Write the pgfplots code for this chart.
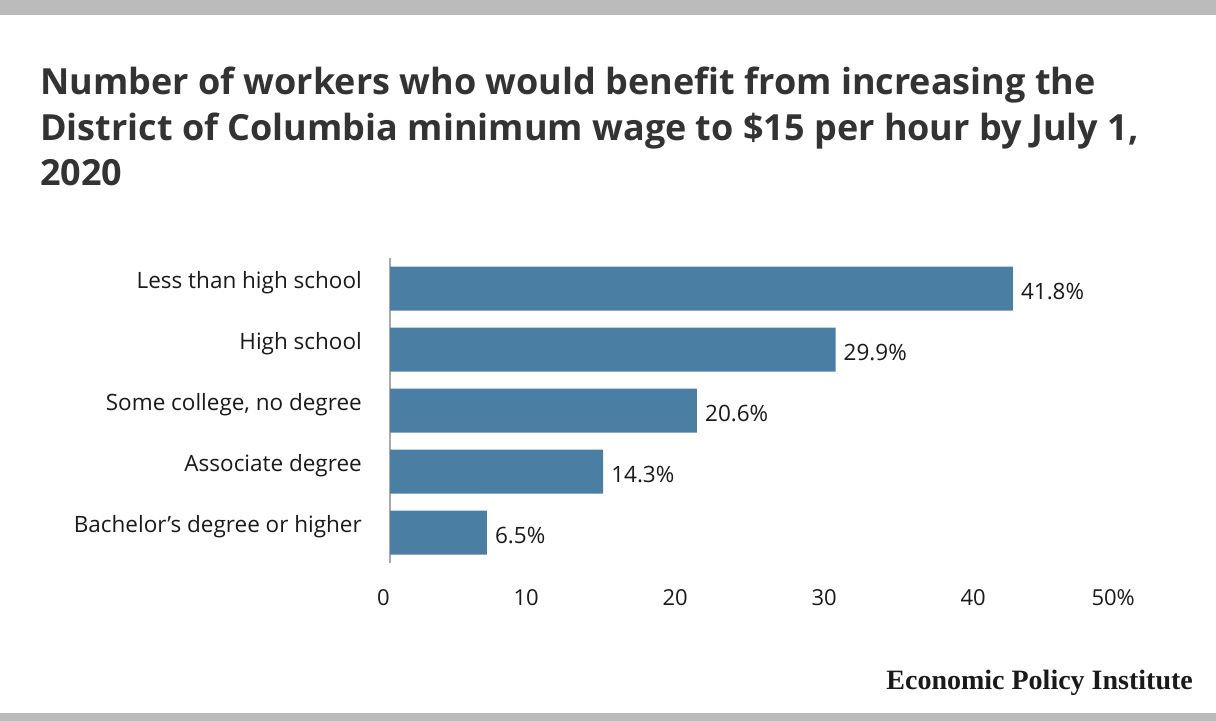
\documentclass[border=0pt]{standalone}
\usepackage{fontspec}
\setmainfont{Open Sans}
\newfontfamily\logofont{Liberation Serif}
\usepackage{pgfplots}
\pgfplotsset{compat=1.18}
\definecolor{barblue}{HTML}{4A7FA3}
\definecolor{titlegray}{HTML}{333333}
\definecolor{bandgray}{HTML}{BBBBBB}
\definecolor{axisgray}{HTML}{AAAAAA}
\definecolor{textblack}{HTML}{1A1A1A}
\begin{document}
\begin{tikzpicture}
\fill[white] (0,0) rectangle (1216bp,-721bp);
\fill[bandgray] (0,0) rectangle (1216bp,-15bp);
\fill[bandgray] (0,-713bp) rectangle (1216bp,-721bp);
\tikzset{ttl/.style={anchor=base west, inner sep=0, text=titlegray, font=\fontsize{36bp}{42bp}\selectfont\bfseries}}
\node[ttl] at (40bp,-94bp) {Number of workers who would benefit from increasing the};
\node[ttl] at (40bp,-140bp) {District of Columbia minimum wage to \$15 per hour by July 1,};
\node[ttl] at (40bp,-185bp) {2020};
\node[anchor=base east, inner sep=0, text=textblack, font=\logofont\fontsize{28bp}{32bp}\selectfont\bfseries] at (1193bp,-689bp) {Economic Policy Institute};
\begin{axis}[
  at={(390bp,-258bp)}, anchor=north west,
  scale only axis, width=745bp, height=305bp,
  xmin=0, xmax=50, ymin=-0.5, ymax=4.5,
  xbar, bar width=44bp,
  axis lines=left,
  x axis line style={draw=none},
  y axis line style={draw=axisgray, line width=2bp, -},
  tick style={draw=none},
  major tick length=0pt,
  xtick={0,10,20,30,40,50},
  xticklabels={0,10,20,30,40,50\%},
  ytick={0,1,2,3,4},
  yticklabels={{Bachelor’s degree or higher},{Associate degree},{Some college, no degree},{High school},{Less than high school}},
  /pgf/number format/assume math mode=true,
  ticklabel style={text=textblack, inner sep=0pt},
  xticklabel style={font=\fontsize{22bp}{26bp}\selectfont, anchor=base east, yshift=-42bp},
  yticklabel style={font=\fontsize{22.5bp}{26bp}\selectfont, anchor=base east, xshift=-28bp},
  point meta=x,
  nodes near coords={\pgfmathprintnumber[fixed,precision=1,fixed zerofill]{\pgfplotspointmeta}\%},
  nodes near coords style={anchor=base west, inner sep=0pt, xshift=8bp, yshift=-11bp, font=\fontsize{22.5bp}{26bp}\selectfont, text=textblack},
  clip=false,
]
\addplot[fill=barblue, draw=none] coordinates {(41.8,4) (29.9,3) (20.6,2) (14.3,1) (6.5,0)};
\end{axis}
\end{tikzpicture}
\end{document}
